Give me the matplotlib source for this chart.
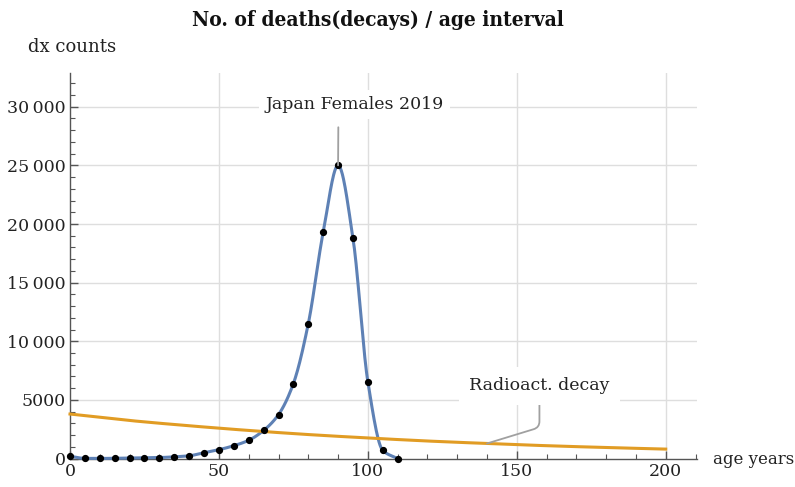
import numpy as np
import matplotlib
matplotlib.use("Agg")
import matplotlib.pyplot as plt
from matplotlib.ticker import MultipleLocator, FuncFormatter

# Japan females 2019, deaths per 5-year age interval (life table dx)
ages = [0, 5, 10, 15, 20, 25, 30, 35, 40, 45, 50, 55, 60, 65, 70, 75, 80, 85, 90, 95, 100, 105, 110]
deaths = [200, 20, 15, 25, 50, 70, 90, 150, 240, 500, 760, 1100, 1560, 2400, 3750, 6400,
          11500, 19300, 25000, 18800, 6550, 700, 0]

decay_t = [0, 20, 40, 60, 80, 100, 120, 140, 160, 180, 200]
decay_n = [3800, 3250, 2800, 2400, 2050, 1760, 1500, 1290, 1100, 945, 810]

title = "No. of deaths(decays) / age interval"
ylabel = "dx counts"
xlabel = "age years"
label_japan = "Japan Females 2019"
label_decay = "Radioact. decay"

BLUE = "#5e81b5"
ORANGE = "#e19c24"
GRID = "#dedede"
AXIS = "#555555"
LEADER = "#a0a0a0"


def pchip(x, y, xs):
    # monotone cubic (Fritsch-Carlson), only used to draw a smooth line through the points
    x = np.asarray(x, float)
    y = np.asarray(y, float)
    h = np.diff(x)
    d = np.diff(y) / h
    m = np.zeros_like(y)
    for i in range(1, len(x) - 1):
        if d[i - 1] * d[i] > 0:
            w1 = 2 * h[i] + h[i - 1]
            w2 = h[i] + 2 * h[i - 1]
            m[i] = (w1 + w2) / (w1 / d[i - 1] + w2 / d[i])
    m[0] = d[0]
    m[-1] = d[-1]
    idx = np.clip(np.searchsorted(x, xs) - 1, 0, len(x) - 2)
    hh = h[idx]
    t = (xs - x[idx]) / hh
    h00 = 2 * t ** 3 - 3 * t ** 2 + 1
    h10 = t ** 3 - 2 * t ** 2 + t
    h01 = -2 * t ** 3 + 3 * t ** 2
    h11 = t ** 3 - t ** 2
    return h00 * y[idx] + h10 * hh * m[idx] + h01 * y[idx + 1] + h11 * hh * m[idx + 1]


def tick_fmt(v, pos):
    v = int(round(v))
    if v >= 10000:
        return f"{v:,}".replace(",", "\u2009")
    return str(v)


plt.rcParams["font.family"] = ["DejaVu Serif"]

fig = plt.figure(figsize=(7.95, 4.87), dpi=100)
ax = fig.add_axes([70 / 795, 1 - 458.6 / 487, 627 / 795, (458.6 - 72.7) / 487])

ax.set_xlim(0, 210.5)
ax.set_ylim(0, 32900)

# smooth curves
xs = np.linspace(ages[0], ages[-1], 600)
ax.plot(xs, pchip(ages, deaths, xs), color=BLUE, lw=2.2, zorder=3, clip_on=False)
ax.plot(ages, deaths, "o", color="black", ms=4.2, zorder=4, clip_on=False)

ts = np.linspace(decay_t[0], decay_t[-1], 400)
ax.plot(ts, pchip(decay_t, decay_n, ts), color=ORANGE, lw=2.2, zorder=3, clip_on=False)

# grid only on major values (not on the axes themselves)
for gx in [50, 100, 150, 200]:
    ax.axvline(gx, color=GRID, lw=1, zorder=0)
for gy in [5000, 10000, 15000, 20000, 25000, 30000]:
    ax.axhline(gy, color=GRID, lw=1, zorder=0)

# axes, Mathematica style
for s in ["top", "right"]:
    ax.spines[s].set_visible(False)
for s in ["left", "bottom"]:
    ax.spines[s].set_color(AXIS)
    ax.spines[s].set_linewidth(1)

ax.xaxis.set_major_locator(MultipleLocator(50))
ax.xaxis.set_minor_locator(MultipleLocator(10))
ax.yaxis.set_major_locator(MultipleLocator(5000))
ax.yaxis.set_minor_locator(MultipleLocator(1000))
ax.yaxis.set_major_formatter(FuncFormatter(tick_fmt))
ax.tick_params(which="major", direction="in", length=6, width=1, color=AXIS,
               labelsize=12.5, labelcolor="#222222", pad=3)
ax.tick_params(which="minor", direction="in", length=3.5, width=0.8, color=AXIS)

fig.text(378 / 795, 1 - 20 / 487, title, ha="center", va="center", fontsize=15,
         fontweight="bold", fontstretch="condensed", color="#111111")
fig.text(28 / 795, 1 - 47 / 487, ylabel, ha="left", va="center", fontsize=13, color="#222222")
fig.text(713 / 795, 1 - 460 / 487, xlabel, ha="left", va="center", fontsize=12, color="#222222")

# callouts
peak = ages[int(np.argmax(deaths))]
ax.annotate(label_japan, xy=(peak, max(deaths)), xytext=(95.5, 30200),
            ha="center", va="center", fontsize=12.5, color="#222222",
            bbox=dict(boxstyle="square,pad=0.35", fc="white", ec="none"),
            arrowprops=dict(arrowstyle="-", color=LEADER, lw=1.3, relpos=(0.41, 0),
                            shrinkA=6, shrinkB=0), zorder=5)

t_dec = 140
ax.annotate(label_decay, xy=(t_dec, np.interp(t_dec, decay_t, decay_n)), xytext=(157.6, 6200),
            ha="center", va="center", fontsize=12.5, color="#222222",
            bbox=dict(boxstyle="square,pad=0.6", fc="white", ec="none"),
            arrowprops=dict(arrowstyle="-", color=LEADER, lw=1.3,
                            connectionstyle="angle,angleA=90,angleB=17,rad=6",
                            shrinkA=0, shrinkB=0), zorder=5)

fig.savefig("out.png", dpi=100)
